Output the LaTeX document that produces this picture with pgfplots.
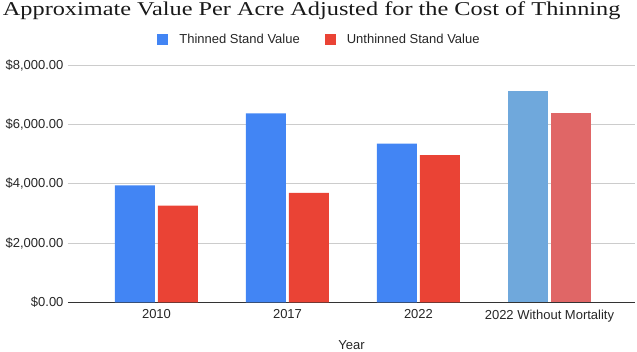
\documentclass[border=0pt]{standalone}
\usepackage{pgfplots}
\pgfplotsset{compat=1.18}
\usepackage{fontspec}
\setmainfont{Liberation Sans}
\newfontfamily\titlefont[FakeStretch=1.24]{Liberation Serif}
\definecolor{gblue}{HTML}{4285F4}
\definecolor{gred}{HTML}{EA4335}
\definecolor{lblue}{HTML}{6FA8DC}
\definecolor{lred}{HTML}{E06666}
\begin{document}
\begin{tikzpicture}
\useasboundingbox (-68pt,-48.7pt) rectangle (569pt,302.3pt);
\begin{axis}[
  at={(0,0)}, anchor=south west,
  scale only axis, width=567pt, height=237pt,
  xmin=-0.6756, xmax=3.653, ymin=0, ymax=8000,
  ybar, bar width=40pt,
  xtick={0,1,2,3},
  xticklabels={2010,2017,2022,2022 Without Mortality},
  ytick={0,2000,4000,6000,8000},
  yticklabels={{\$0.00},{\$2,000.00},{\$4,000.00},{\$6,000.00},{\$8,000.00}},
  major tick length=0pt,
  tick label style={font=\fontsize{13}{15}\selectfont, color=black!85},
  yticklabel style={xshift=-1pt},
  xticklabel style={yshift=-4pt},
  ymajorgrids, grid style={color=black!20, line width=0.8pt},
  axis x line*=bottom, axis y line*=left,
  y axis line style={draw=none},
  x axis line style={-, color=black!80, line width=0.9pt},
  xlabel={Year},
  xlabel style={at={(axis description cs:0.5,-0.181)}, anchor=center, font=\fontsize{13}{15}\selectfont, color=black!85},
  legend columns=2,
  legend style={at={(0.4435,1.109)}, anchor=center, draw=none, fill=none,
    font=\fontsize{13}{15}\selectfont, text=black!85,
    /tikz/every odd column/.append style={column sep=9pt},
    /tikz/every even column/.append style={column sep=23pt}},
  legend image code/.code={\fill[#1] (0pt,-5.5pt) rectangle (11pt,5.5pt);},
]
\addplot[fill=gblue, draw=none, bar shift=-21.5pt] coordinates {(0,3950) (1,6380) (2,5360)};
\addlegendentry{Thinned Stand Value}
\addplot[fill=gred, draw=none, bar shift=21.5pt] coordinates {(0,3260) (1,3690) (2,4970)};
\addlegendentry{Unthinned Stand Value}
\addplot[fill=lblue, draw=none, bar shift=-21.5pt, forget plot] coordinates {(3,7120)};
\addplot[fill=lred, draw=none, bar shift=21.5pt, forget plot] coordinates {(3,6380)};
\end{axis}
\node[anchor=base west, inner sep=0pt, font=\titlefont\fontsize{19.6}{23}\selectfont, text=black!90] at (-65.3pt,286.6pt) {Approximate Value Per Acre Adjusted for the Cost of Thinning};
\end{tikzpicture}
\end{document}
